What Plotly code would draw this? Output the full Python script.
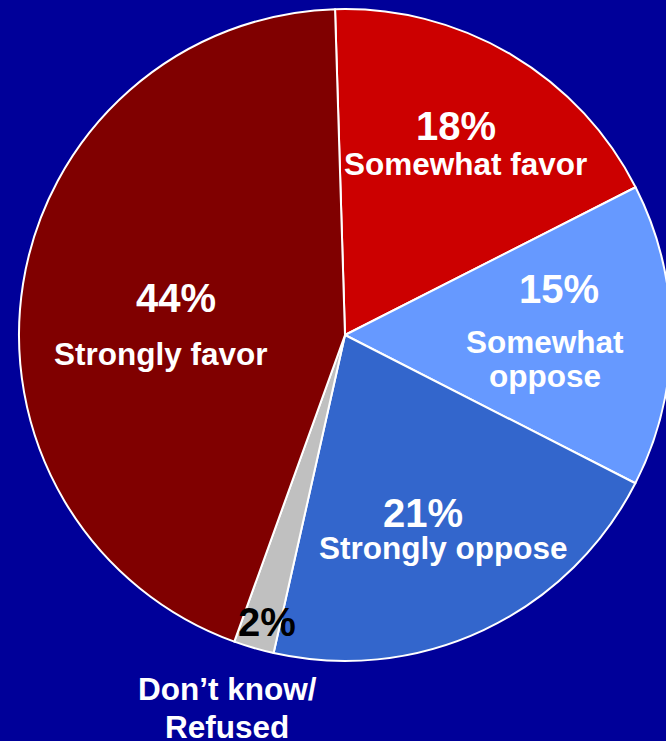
import plotly.graph_objects as go

# ---- data ----
categories = ["Somewhat favor", "Somewhat oppose", "Strongly oppose",
              "Don't know/Refused", "Strongly favor"]
values = [18, 15, 21, 2, 44]
label_lines = [["Somewhat favor"], ["Somewhat", "oppose"], ["Strongly oppose"],
               ["Don\u2019t know/", "Refused"], ["Strongly favor"]]

# ---- style ----
colors = ["#CC0000", "#6699FF", "#3366CC", "#C0C0C0", "#800000"]
BG = "#000099"
# the figure is slightly wider than the 666px window: the pie's right edge is
# clipped in the reference, exactly as here (body overflow hidden)
W, H = 672, 741
FONT = "Liberation Sans, Arial, sans-serif"

# pie placement in pixels (center + radius)
cx, cy, r = 345, 335, 326

fig = go.Figure(go.Pie(
    labels=categories,
    values=values,
    sort=False,
    direction="clockwise",
    rotation=-1.75,
    marker=dict(colors=colors, line=dict(color="white", width=2)),
    textinfo="none",
    hoverinfo="skip",
    showlegend=False,
    domain=dict(x=[(cx - r) / W, min(1.0, (cx + r) / W)],
                y=[1 - (cy + r) / H, 1 - (cy - r) / H]),
))

# label placement (pixel positions of percent line and label lines)
pct_pos = [(455.5, 126), (558.5, 289), (422.5, 513), (266.5, 622), (175.5, 298)]
lbl_pos = [[(465.5, 163.5)], [(545, 342), (545, 376)], [(443, 547.5)],
           [(227, 689), (226.5, 727)], [(160.5, 353.5)]]
pct_colors = ["white", "white", "white", "black", "white"]

annotations = []
for v, lines, pp, lp, pc in zip(values, label_lines, pct_pos, lbl_pos, pct_colors):
    annotations.append(dict(
        text=f"<b>{v}%</b>", x=pp[0] / W, y=1 - pp[1] / H,
        xref="paper", yref="paper", xanchor="center", yanchor="middle",
        showarrow=False, font=dict(family=FONT, size=40, color=pc)))
    for line, (lx, ly) in zip(lines, lp):
        annotations.append(dict(
            text=f"<b>{line}</b>", x=lx / W, y=1 - ly / H,
            xref="paper", yref="paper", xanchor="center", yanchor="middle",
            showarrow=False, font=dict(family=FONT, size=31.5, color="white")))

fig.update_layout(
    width=W, height=H,
    margin=dict(l=0, r=0, t=0, b=0),
    paper_bgcolor=BG, plot_bgcolor=BG,
    annotations=annotations,
)

fig.write_html(
    "out.html",
    config={"displayModeBar": False},
    post_script=("document.body.style.margin='0';"
                 "document.body.style.overflow='hidden';"
                 "document.body.style.background='" + BG + "';"),
)
